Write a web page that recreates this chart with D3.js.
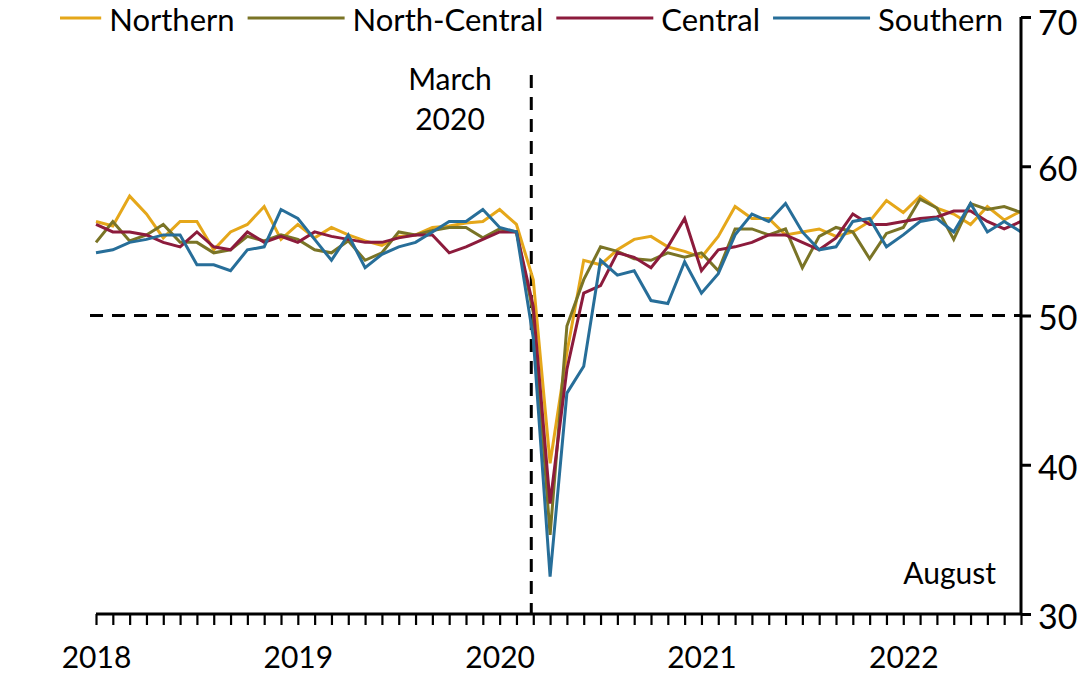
<!DOCTYPE html>
<html>
<head>
<meta charset="utf-8">
<script src="https://cdn.jsdelivr.net/npm/d3@7"></script>
<style>
  html, body { margin: 0; padding: 0; background: #fff; }
  svg { display: block; }
  text { font-family: Lato, "Open Sans", sans-serif; fill: #000; }
</style>
</head>
<body>
<svg id="chart" width="1089" height="681"></svg>
<script>
// ---- Data (monthly, Jan 2018 – Aug 2022) ----
const startYear = 2018, startMonth = 0, monthCount = 56;
const seriesNames = ["Northern", "North-Central", "Central", "Southern"];
const seriesColors = ["#E5A71A", "#7A7426", "#8C1B3C", "#276E99"];

const northern = [56.3,56.0,58.0,56.8,55.2,56.3,56.3,54.4,55.6,56.1,57.3,55.1,
  56.1,55.2,55.9,55.4,55.0,54.7,55.3,55.4,55.9,56.0,56.2,56.3,
  57.1,56.1,52.4,40.1,47.5,53.7,53.4,54.4,55.1,55.3,54.6,54.3,
  53.9,55.3,57.3,56.5,56.5,55.4,55.6,55.8,55.3,55.6,56.3,57.7,
  56.9,58.0,57.2,56.8,56.1,57.3,56.4,57.0];
const northCentral = [54.9,56.3,55.0,55.4,56.1,54.9,54.9,54.2,54.4,55.3,55.0,55.4,
  55.1,54.4,54.2,55.0,53.7,54.2,55.6,55.4,55.7,55.9,55.9,55.2,
  55.8,55.6,50.2,35.3,49.3,52.4,54.6,54.3,53.8,53.7,54.2,53.9,
  54.2,53.0,55.8,55.8,55.4,55.8,53.2,55.3,55.9,55.6,53.8,55.5,
  55.9,57.8,57.2,55.1,57.5,57.1,57.3,56.9];
const central = [56.1,55.6,55.6,55.4,54.9,54.6,55.6,54.6,54.4,55.6,54.9,55.3,
  54.9,55.6,55.3,55.1,54.9,54.9,55.2,55.4,55.4,54.2,54.6,55.1,
  55.6,55.6,50.6,37.4,46.4,51.5,52.0,54.2,53.9,53.2,54.6,56.5,
  53.0,54.4,54.6,54.9,55.4,55.4,54.9,54.4,55.2,56.8,56.1,56.1,
  56.3,56.5,56.6,57.0,57.0,56.3,55.8,56.3];
const southern = [54.2,54.4,54.9,55.1,55.4,55.4,53.4,53.4,53.0,54.4,54.6,57.1,
  56.5,55.1,53.7,55.4,53.2,54.1,54.6,54.9,55.6,56.3,56.3,57.1,
  55.9,55.6,48.5,32.5,44.8,46.6,53.7,52.7,53.0,51.0,50.8,53.6,
  51.5,52.8,55.4,56.8,56.3,57.5,55.6,54.4,54.6,56.3,56.5,54.6,
  55.4,56.3,56.5,55.6,57.5,55.6,56.3,55.6];
const yTicks = [30, 40, 50, 60, 70];
const threshold = 50;
const eventMonth = "2020-03";
const eventLabel = ["March", "2020"];
const endLabel = "August";

// ---- Build month keys ----
const months = d3.range(monthCount).map(i => {
  const yr = startYear + Math.floor((startMonth + i) / 12);
  const m = (startMonth + i) % 12 + 1;
  return yr + "-" + String(m).padStart(2, "0");
});
const allSeries = [northern, northCentral, central, southern];

// ---- Layout ----
const plotLeft = 96, plotRight = 1021, plotTop = 17, plotBottom = 614;
const svg = d3.select("#chart");

const x = d3.scalePoint().domain(months).range([plotLeft, plotRight]);
const y = d3.scaleLinear().domain([30, 70]).range([plotBottom, plotTop]);

// Threshold dashed line
svg.append("line")
  .attr("x1", plotLeft - 6).attr("x2", plotRight)
  .attr("y1", y(threshold)).attr("y2", y(threshold))
  .attr("stroke", "#000").attr("stroke-width", 3)
  .attr("stroke-dasharray", "13,9");

// Event dashed line
svg.append("line")
  .attr("x1", x(eventMonth) - 2).attr("x2", x(eventMonth) - 2)
  .attr("y1", 75).attr("y2", plotBottom)
  .attr("stroke", "#000").attr("stroke-width", 3)
  .attr("stroke-dasharray", "13,9");

// Series lines
const line = d3.line().x((d, i) => x(months[i])).y(d => y(d));
allSeries.forEach((s, k) => {
  svg.append("path")
    .datum(s)
    .attr("fill", "none")
    .attr("stroke", seriesColors[k])
    .attr("stroke-width", 3)
    .attr("stroke-linejoin", "miter")
    .attr("d", line);
});

// X axis
const xAxis = d3.axisBottom(x)
  .tickSize(11)
  .tickPadding(22)
  .tickFormat(d => d.endsWith("-01") ? d.slice(0, 4) : "");
const gx = svg.append("g").attr("transform", `translate(0,${plotBottom})`).call(xAxis);
gx.select(".domain").attr("stroke", "#000").attr("stroke-width", 3)
  .attr("d", `M${plotLeft},0H${plotRight}`);
gx.selectAll(".tick line").attr("stroke", "#000").attr("stroke-width", 2.2);
gx.selectAll(".tick text").style("font-size", "30px").style("font-family", "Lato, sans-serif");

// Y axis (right)
const yAxis = d3.axisRight(y).tickValues(yTicks).tickSize(10).tickPadding(7);
const gy = svg.append("g").attr("transform", `translate(${plotRight},0)`).call(yAxis);
gy.select(".domain").attr("stroke", "#000").attr("stroke-width", 3)
  .attr("d", `M0,${plotTop}V${plotBottom}`);
gy.selectAll(".tick line").attr("stroke", "#000").attr("stroke-width", 3);
gy.selectAll(".tick text").style("font-size", "34px").style("font-family", "Lato, sans-serif")
  .attr("dy", d => d === d3.max(yTicks) ? "0.5em" : "0.42em");

// Annotations
const ann = svg.append("text")
  .attr("text-anchor", "middle")
  .style("font-size", "30px");
ann.append("tspan").attr("x", 450).attr("y", 90).text(eventLabel[0]);
ann.append("tspan").attr("x", 450).attr("y", 130).text(eventLabel[1]);

svg.append("text")
  .attr("x", 996).attr("y", 584)
  .attr("text-anchor", "end")
  .style("font-size", "30px")
  .text(endLabel);

// Legend (right-aligned, clipped at left like the original)
svg.append("clipPath").attr("id", "legclip")
  .append("rect").attr("x", 60).attr("y", 0).attr("width", 1000).attr("height", 44);
const leg = svg.append("g").attr("clip-path", "url(#legclip)");
const legFont = "31px";
const lineLen = 97, gapLT = 8, gapItem = 13, legY = 19;
const tmp = svg.append("text").style("font-size", legFont);
const widths = seriesNames.map(n => { tmp.text(n); return tmp.node().getComputedTextLength(); });
tmp.remove();
let cursor = 1003;
const positions = [];
for (let k = seriesNames.length - 1; k >= 0; k--) {
  const textX = cursor - widths[k];
  const lineX2 = textX - gapLT;
  const lineX1 = lineX2 - lineLen;
  positions[k] = { textX, lineX1, lineX2 };
  cursor = lineX1 - gapItem;
}
seriesNames.forEach((n, k) => {
  const p = positions[k];
  leg.append("line")
    .attr("x1", p.lineX1).attr("x2", p.lineX2)
    .attr("y1", legY - 1).attr("y2", legY - 1)
    .attr("stroke", seriesColors[k]).attr("stroke-width", 3);
  leg.append("text")
    .attr("x", p.textX).attr("y", legY)
    .attr("dy", "0.38em")
    .style("font-size", legFont)
    .text(n);
});
</script>
</body>
</html>
